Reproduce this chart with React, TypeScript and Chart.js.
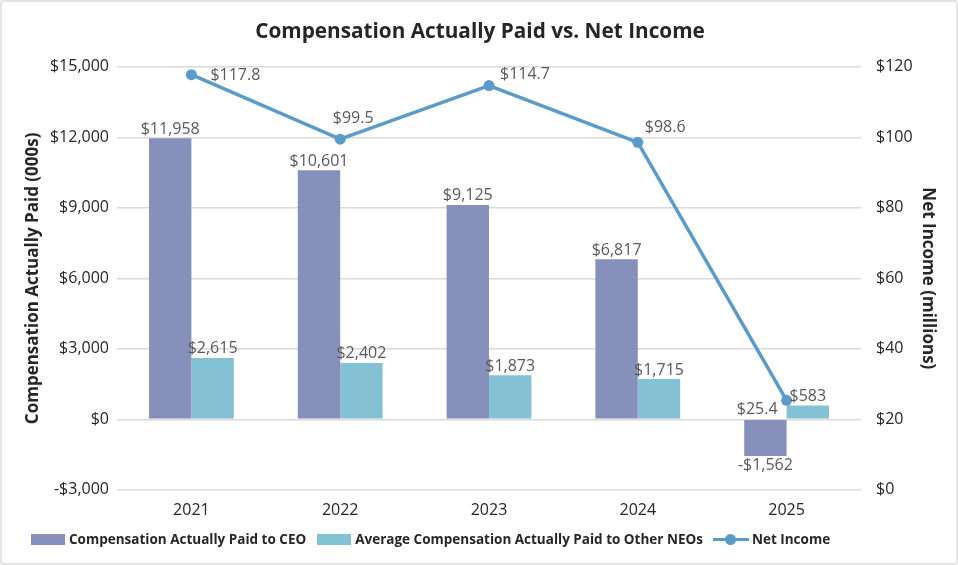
import React, { useEffect, useRef } from "react";
import { Chart, registerables } from "chart.js";

Chart.register(...registerables);

const years = ["2021", "2022", "2023", "2024", "2025"];
const ceoPaid = [11958, 10601, 9125, 6817, -1562];
const otherNeoPaid = [2615, 2402, 1873, 1715, 583];
const netIncome = [117.8, 99.5, 114.7, 98.6, 25.4];

const CEO_LABEL = "Compensation Actually Paid to CEO";
const NEO_LABEL = "Average Compensation Actually Paid to Other NEOs";
const NI_LABEL = "Net Income";

const FONT = "'Open Sans', 'Noto Sans', sans-serif";
const CEO_COLOR = "#8690bb";
const NEO_COLOR = "#84c1d5";
const LINE_COLOR = "#5a9bc9";
const LABEL_COLOR = "#595959";
const TEXT_COLOR = "#262626";

const fmtMoney = (v: number) =>
  (v < 0 ? "-$" : "$") + Math.abs(v).toLocaleString("en-US");

// label placement for net income points: [dx, dy, align]
const lineLabelPlacement: [number, number, CanvasTextAlign][] = [
  [19, 1, "left"],
  [13, -21, "center"],
  [11, -11, "left"],
  [7, -15, "left"],
  [-9, 9, "right"],
];

const dataLabelPlugin = {
  id: "dataLabels",
  afterDatasetsDraw(chart: any) {
    const ctx = chart.ctx;
    ctx.save();
    ctx.font = `16px ${FONT}`;
    ctx.fillStyle = LABEL_COLOR;
    chart.data.datasets.forEach((ds: any, di: number) => {
      const meta = chart.getDatasetMeta(di);
      meta.data.forEach((el: any, i: number) => {
        const v = ds.data[i];
        if (ds.type === "line") {
          const [dx, dy, align] = lineLabelPlacement[i];
          ctx.textAlign = align;
          ctx.textBaseline = "middle";
          ctx.fillText("$" + v.toFixed(1), el.x + dx, el.y + dy);
        } else {
          ctx.textAlign = "center";
          if (v >= 0) {
            ctx.textBaseline = "bottom";
            ctx.fillText(fmtMoney(v), el.x, el.y - 1);
          } else {
            ctx.textBaseline = "top";
            ctx.fillText(fmtMoney(v), el.x, el.y + 1);
          }
        }
      });
    });
    ctx.restore();
  },
};

const legendText: React.CSSProperties = {
  fontFamily: FONT,
  fontWeight: 700,
  fontSize: 13.5,
  color: TEXT_COLOR,
  whiteSpace: "nowrap",
};

export default function App() {
  const ref = useRef<HTMLCanvasElement>(null);

  useEffect(() => {
    if (!ref.current) return;
    const chart = new Chart(ref.current, {
      type: "bar",
      data: {
        labels: years,
        datasets: [
          {
            type: "line",
            label: NI_LABEL,
            data: netIncome,
            yAxisID: "y1",
            borderColor: LINE_COLOR,
            backgroundColor: LINE_COLOR,
            borderWidth: 3.5,
            pointRadius: 5.5,
            pointHoverRadius: 5.5,
            pointBackgroundColor: LINE_COLOR,
            pointBorderWidth: 0,
            tension: 0,
            order: 0,
          } as any,
          {
            type: "bar",
            label: CEO_LABEL,
            data: ceoPaid,
            yAxisID: "y",
            backgroundColor: CEO_COLOR,
            categoryPercentage: 0.57,
            barPercentage: 1,
            order: 1,
          },
          {
            type: "bar",
            label: NEO_LABEL,
            data: otherNeoPaid,
            yAxisID: "y",
            backgroundColor: NEO_COLOR,
            categoryPercentage: 0.57,
            barPercentage: 1,
            order: 2,
          },
        ],
      },
      options: {
        responsive: false,
        animation: false,
        devicePixelRatio: 1,
        layout: { padding: { left: 20, right: 18, top: 8, bottom: 32 } },
        plugins: {
          title: {
            display: true,
            text: "Compensation Actually Paid vs. Net Income",
            color: TEXT_COLOR,
            font: { family: FONT, size: 20.75, weight: "bold" },
            padding: { top: 10, bottom: 22 },
          },
          legend: { display: false },
          tooltip: { enabled: false },
        },
        scales: {
          x: {
            grid: { display: false, drawTicks: false },
            border: { display: false },
            ticks: { color: TEXT_COLOR, font: { family: FONT, size: 16 }, padding: 11 },
          },
          y: {
            position: "left",
            min: -3000,
            max: 15000,
            afterFit: (s: any) => {
              s.width = 95;
            },
            grid: { color: "#d9d9d9", lineWidth: 1.5, drawTicks: false },
            border: { display: false },
            ticks: {
              stepSize: 3000,
              color: TEXT_COLOR,
              font: { family: FONT, size: 16 },
              padding: 8,
              callback: (v: any) => fmtMoney(Number(v)),
            },
            title: {
              display: true,
              text: "Compensation Actually Paid (000s)",
              color: TEXT_COLOR,
              font: { family: FONT, size: 17, weight: "bold" },
              padding: { top: 1, bottom: 0 },
            },
          },
          y1: {
            position: "right",
            min: 0,
            max: 120,
            afterFit: (s: any) => {
              s.width = 77;
            },
            grid: { display: false, drawTicks: false },
            border: { display: false },
            ticks: {
              stepSize: 20,
              color: TEXT_COLOR,
              font: { family: FONT, size: 16 },
              padding: 15,
              callback: (v: any) => "$" + v,
            },
            title: {
              display: true,
              text: "Net Income (millions)",
              color: TEXT_COLOR,
              font: { family: FONT, size: 17, weight: "bold" },
              padding: { top: 0, bottom: 0 },
            },
          },
        },
      } as any,
      plugins: [dataLabelPlugin],
    });
    return () => chart.destroy();
  }, []);

  return (
    <div
      style={{
        position: "fixed",
        left: 0,
        top: 0,
        width: 958,
        height: 565,
        boxSizing: "border-box",
        border: "2px solid #e4e4e4",
        borderRadius: 4,
        background: "#fff",
        overflow: "hidden",
      }}
    >
      <canvas ref={ref} width={954} height={561} style={{ display: "block" }} />
      <div
        style={{
          position: "absolute",
          left: 29,
          top: 526,
          height: 22,
          display: "flex",
          alignItems: "center",
        }}
      >
        <span style={{ width: 34, height: 11, background: CEO_COLOR, marginRight: 4 }} />
        <span style={legendText}>{CEO_LABEL}</span>
        <span style={{ width: 34, height: 11, background: NEO_COLOR, marginLeft: 11, marginRight: 4 }} />
        <span style={legendText}>{NEO_LABEL}</span>
        <span
          style={{
            position: "relative",
            width: 36,
            height: 12,
            marginLeft: 10,
            marginRight: 3,
          }}
        >
          <span
            style={{
              position: "absolute",
              left: 0,
              top: 4.5,
              width: 36,
              height: 3.5,
              background: LINE_COLOR,
            }}
          />
          <span
            style={{
              position: "absolute",
              left: 12.5,
              top: 0.5,
              width: 11,
              height: 11,
              borderRadius: "50%",
              background: LINE_COLOR,
            }}
          />
        </span>
        <span style={legendText}>{NI_LABEL}</span>
      </div>
    </div>
  );
}
